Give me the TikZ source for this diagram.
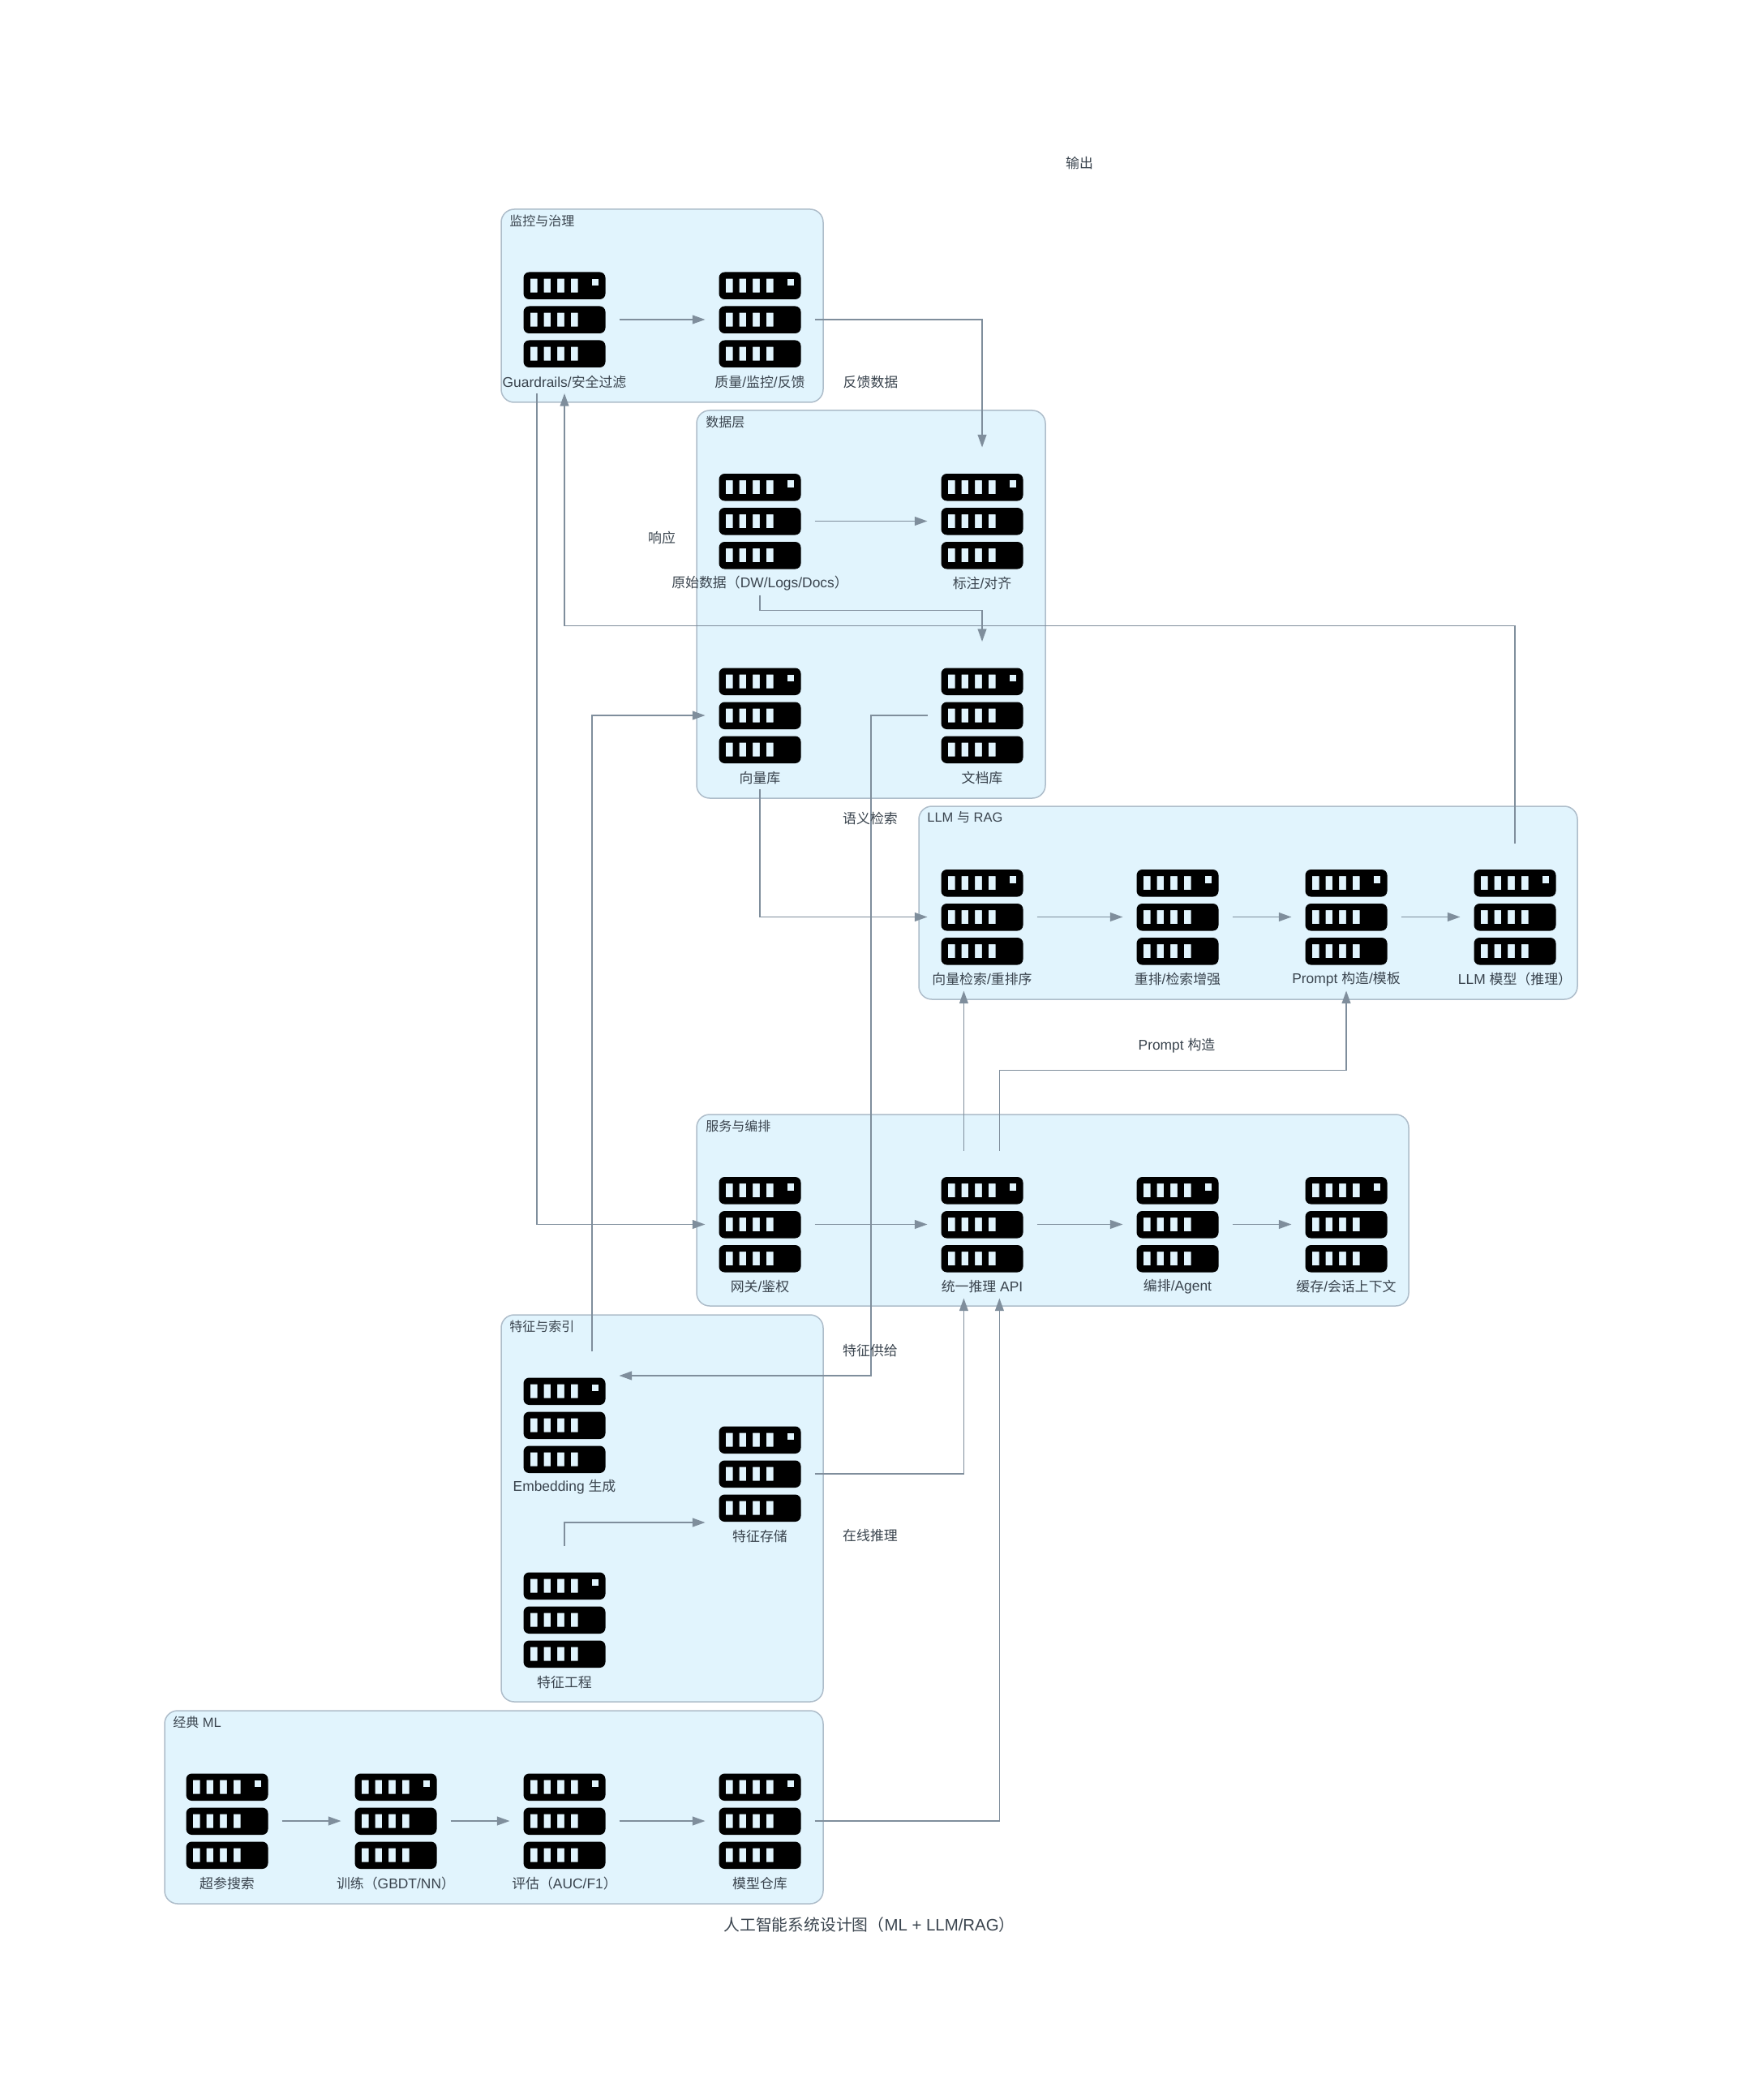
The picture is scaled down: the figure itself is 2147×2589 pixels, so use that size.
\documentclass[tikz,border=0pt]{standalone}
\usepackage{fontspec}
\setmainfont[Scale=1.03]{Liberation Sans}
\newfontfamily\cjk{Noto Sans CJK SC}
\usetikzlibrary{arrows.meta, positioning}
\definecolor{zonefill}{HTML}{E1F4FD}
\definecolor{zoneline}{HTML}{AEBDCA}
\definecolor{linkline}{HTML}{7F8E9C}
\definecolor{inktext}{HTML}{3A444E}
\tikzset{
  serverbars/.pic={
    \foreach \y in {-58.5,-16.5,25.5} {
      \fill[black, even odd rule] (-50.5,\y) [rounded corners=3.5pt] rectangle ++(101,33.5) [sharp corners]
        \foreach \wx in {8.3,25,41.7,58.3} { (-50.5+\wx,\y+8.2) rectangle ++(8.7,17) };
    }
    \fill[zonefill] (33.5,-50.3) rectangle ++(8.7,8.7);
  },
  srv/.style={minimum width=67.5pt, minimum height=91pt, inner sep=0pt, outer sep=0pt,
    path picture={\pic at (path picture bounding box.center) {serverbars};}},
  srvtext/.style={anchor=center, yshift=7.2pt, font=\fontsize{8.45}{10}\selectfont, text=inktext, inner sep=0pt},
  zone/.style={draw=zoneline, fill=zonefill, line width=0.75pt, rounded corners=8pt},
  zonetitle/.style={anchor=west, font=\fontsize{8}{10}\selectfont, text=inktext, inner sep=0pt},
  flowtext/.style={font=\fontsize{8.45}{10}\selectfont, text=inktext, inner sep=0pt},
  link/.style={draw=linkline, line width=0.75pt, -{Triangle[length=7.8pt,width=5.4pt]}},
}
\begin{document}
\begin{tikzpicture}[x=0.5pt, y=-0.5pt]
  \useasboundingbox (0,0) rectangle (2147,2589);

  % groups
  \path[zone] (618,258) rectangle (1015,496);
  \path[zone] (859,506) rectangle (1289,984);
  \path[zone] (1133,994) rectangle (1945,1232);
  \path[zone] (859,1374) rectangle (1737,1610);
  \path[zone] (618,1621) rectangle (1015,2098);
  \path[zone] (203,2109) rectangle (1015,2347);

  % group titles
  \node[zonetitle] (watchtitle) at (628,272) {\cjk 监控与治理};
  \node[zonetitle] (datatitle) at (870,520) {\cjk 数据层};
  \node[zonetitle] (llmtitle) at (1143,1008) {LLM {\cjk 与} RAG};
  \node[zonetitle] (servetitle) at (870,1388) {\cjk 服务与编排};
  \node[zonetitle] (feattitle) at (628,1635) {\cjk 特征与索引};
  \node[zonetitle] (mltitle) at (213,2123) {{\cjk 经典} ML};

  % monitoring
  \node[srv, label={[srvtext]south:Guardrails/{\cjk 安全过滤}}] (guard) at (696,394) {};
  \node[srv, label={[srvtext]south:{\cjk 质量}/{\cjk 监控}/{\cjk 反馈}}] (quality) at (937,394) {};

  % data layer
  \node[srv, label={[srvtext]south:{\cjk 原始数据（}DW/Logs/Docs{\cjk ）}}] (raw) at (937,642.5) {};
  \node[srv, label={[srvtext]south:{\cjk 标注}/{\cjk 对齐}}] (anno) at (1211,642.5) {};
  \node[srv, label={[srvtext]south:{\cjk 向量库}}] (vecdb) at (937,882) {};
  \node[srv, label={[srvtext]south:{\cjk 文档库}}] (docdb) at (1211,882) {};

  % llm and rag
  \node[srv, label={[srvtext]south:{\cjk 向量检索}/{\cjk 重排序}}] (vecsearch) at (1211,1130.5) {};
  \node[srv, label={[srvtext]south:{\cjk 重排}/{\cjk 检索增强}}] (rerank) at (1452,1130.5) {};
  \node[srv, label={[srvtext]south:Prompt {\cjk 构造}/{\cjk 模板}}] (prompt) at (1660,1130.5) {};
  \node[srv, label={[srvtext]south:LLM {\cjk 模型（推理）}}] (llm) at (1868,1130.5) {};

  % serving
  \node[srv, label={[srvtext]south:{\cjk 网关}/{\cjk 鉴权}}] (gateway) at (937,1509.5) {};
  \node[srv, label={[srvtext]south:{\cjk 统一推理} API}] (api) at (1211,1509.5) {};
  \node[srv, label={[srvtext]south:{\cjk 编排}/Agent}] (orch) at (1452,1509.5) {};
  \node[srv, label={[srvtext]south:{\cjk 缓存}/{\cjk 会话上下文}}] (cache) at (1660,1509.5) {};

  % features
  \node[srv, label={[srvtext]south:Embedding {\cjk 生成}}] (embed) at (696,1757) {};
  \node[srv, label={[srvtext]south:{\cjk 特征存储}}] (store) at (937,1817) {};
  \node[srv, label={[srvtext]south:{\cjk 特征工程}}] (feat) at (696,1997) {};

  % classic ml
  \node[srv, label={[srvtext]south:{\cjk 超参搜索}}] (hyper) at (280,2245) {};
  \node[srv, label={[srvtext]south:{\cjk 训练（}GBDT/NN{\cjk ）}}] (train) at (488,2245) {};
  \node[srv, label={[srvtext]south:{\cjk 评估（}AUC/F1{\cjk ）}}] (eval) at (696,2245) {};
  \node[srv, label={[srvtext]south:{\cjk 模型仓库}}] (repo) at (937,2245) {};

  % links
  \draw[link] (guard.east) -- (quality.west);
  \draw[link] (quality.east) -| (anno.north);
  \draw[link] (raw.east) -- (anno.west);
  \draw[link] (raw.south) -- ++(0,19) -| (docdb.north);
  \draw[link] (llm.north) |- (696,771.7) -- (guard.south);
  \draw[link] ([xshift=-17pt]guard.south) |- (gateway.west);
  \draw[link] (docdb.west) -- (1074,882) |- ([yshift=30.5pt]embed.east);
  \draw[link] ([xshift=17pt]embed.north) |- (vecdb.west);
  \draw[link] (feat.north) |- ([yshift=-30pt]store.west);
  \draw[link] (store.east) -| ([xshift=-11.3pt]api.south);
  \draw[link] (repo.east) -| ([xshift=10.7pt]api.south);
  \draw[link] (vecdb.south) |- (vecsearch.west);
  \draw[link] ([xshift=-11.3pt]api.north) -- ([xshift=-11.3pt]vecsearch.south);
  \draw[link] ([xshift=10.7pt]api.north) |- (1660,1319.6) -- (prompt.south);
  \draw[link] (vecsearch.east) -- (rerank.west);
  \draw[link] (rerank.east) -- (prompt.west);
  \draw[link] (prompt.east) -- (llm.west);
  \draw[link] (gateway.east) -- (api.west);
  \draw[link] (api.east) -- (orch.west);
  \draw[link] (orch.east) -- (cache.west);
  \draw[link] (hyper.east) -- (train.west);
  \draw[link] (train.east) -- (eval.west);
  \draw[link] (eval.east) -- (repo.west);

  % free labels
  \node[flowtext] (outlabel) at (1331,201.5) {\cjk 输出};
  \node[flowtext] (backlabel) at (1073.5,471) {\cjk 反馈数据};
  \node[flowtext] (resplabel) at (816,663) {\cjk 响应};
  \node[flowtext] (searchlabel) at (1073,1009) {\cjk 语义检索};
  \node[flowtext] (promptlabel) at (1451,1289) {Prompt {\cjk 构造}};
  \node[flowtext] (supplylabel) at (1073,1665) {\cjk 特征供给};
  \node[flowtext] (onlinelabel) at (1073,1893) {\cjk 在线推理};
  \node[flowtext, font=\fontsize{9.9}{12}\selectfont] (figtitle) at (1072,2373) {{\cjk 人工智能系统设计图（}ML + LLM/RAG{\cjk ）}};
\end{tikzpicture}
\end{document}
